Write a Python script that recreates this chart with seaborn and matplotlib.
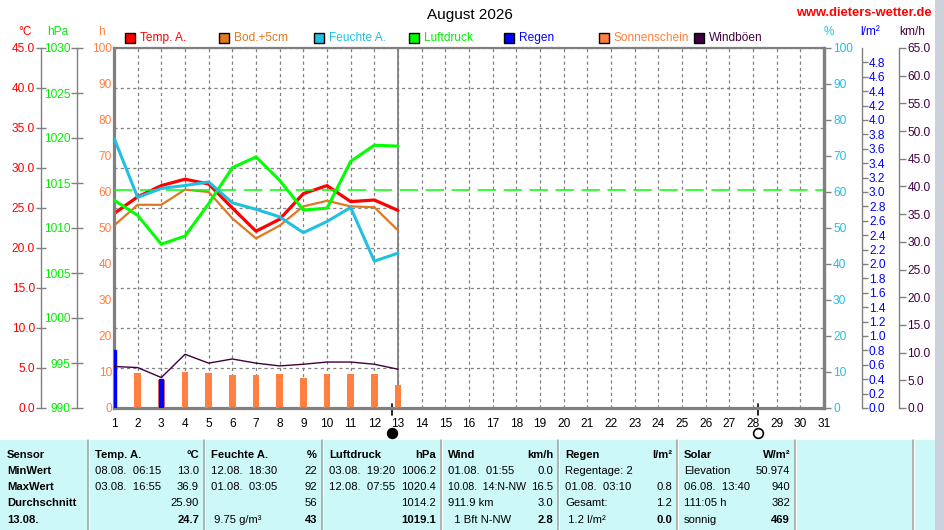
import matplotlib
matplotlib.use("Agg")
import matplotlib.pyplot as plt
import matplotlib.transforms as mtrans
from matplotlib.patches import Rectangle
from matplotlib.lines import Line2D
import seaborn as sns
import numpy as np
import pandas as pd

# ---------------- data ----------------
days = list(range(1, 14))
temp = [24.3, 26.4, 27.8, 28.6, 28.0, 25.0, 22.1, 23.6, 26.8, 27.8, 25.8, 26.0, 24.7]
soil = [22.8, 25.4, 25.4, 27.3, 27.0, 23.7, 21.2, 22.8, 25.2, 25.9, 25.2, 25.1, 22.2]
humidity = [75.0, 58.5, 61.0, 61.8, 62.8, 57.0, 55.2, 53.1, 48.7, 51.8, 55.7, 40.8, 43.0]
pressure = [1013.1, 1011.4, 1008.2, 1009.1, 1012.7, 1016.7, 1017.9, 1015.3, 1012.0,
            1012.2, 1017.4, 1019.2, 1019.1]
rain = [0.8, 0.0, 0.4, 0.0, 0.0, 0.0, 0.0, 0.0, 0.0, 0.0, 0.0, 0.0, 0.0]
sunshine = [9.4, 9.6, 7.8, 10.0, 9.6, 9.1, 9.2, 9.4, 8.3, 9.4, 9.4, 9.4, 6.4]
gusts = [7.5, 7.3, 5.5, 9.7, 8.1, 8.85, 8.1, 7.6, 7.9, 8.3, 8.3, 7.9, 7.0]
pressure_mean = 1014.2
today = 13
moon_new = 12.75
moon_full = 28.2

title = "August 2026"
site = "www.dieters-wetter.de"
legend_labels = ["Temp. A.", "Bod.+5cm", "Feuchte A.", "Luftdruck", "Regen", "Sonnenschein", "Windböen"]
legend_colors = ["#ff0000", "#e07820", "#20c0e0", "#00ff00", "#0000ff", "#ff8040", "#400040"]
legend_text_colors = ["#ff0000", "#e07820", "#20c0e0", "#00ee00", "#0000ff", "#ff8040", "#400040"]

table_headers = [("Sensor", ""), ("Temp. A.", "°C"), ("Feuchte A.", "%"), ("Luftdruck", "hPa"),
                 ("Wind", "km/h"), ("Regen", "l/m²"), ("Solar", "W/m²")]
table_left = [
    ["MinWert", "MaxWert", "Durchschnitt", "13.08."],
    ["08.08.  06:15", "03.08.  16:55", "", ""],
    ["12.08.  18:30", "01.08.  03:05", "", " 9.75 g/m³"],
    ["03.08.  19:20", "12.08.  07:55", "", ""],
    ["01.08.  01:55", "10.08.  14:N-NW", "911.9 km", "  1 Bft N-NW"],
    ["Regentage: 2", "01.08.  03:10", "Gesamt:", " 1.2 l/m²"],
    ["Elevation", "06.08.  13:40", "111:05 h", "sonnig"],
]
table_right = [
    ["", "", "", ""],
    ["13.0", "36.9", "25.90", "24.7"],
    ["22", "92", "56", "43"],
    ["1006.2", "1020.4", "1014.2", "1019.1"],
    ["0.0", "16.5", "3.0", "2.8"],
    ["", "0.8", "1.2", "0.0"],
    ["50.974", "940", "382", "469"],
]

# ---------------- style ----------------
sns.set_theme(style="white")
plt.rcParams['font.family'] = ['Liberation Sans', 'DejaVu Sans']
GRAY = "#808080"
FS = 8.6

df = pd.DataFrame({"day": days, "temp": temp, "soil": soil, "humidity": humidity,
                   "pressure": pressure, "rain": rain, "sunshine": sunshine, "gusts": gusts})

W, H = 944, 530
fig = plt.figure(figsize=(W / 100, H / 100), dpi=100)
fig.patch.set_facecolor("white")

L, R, T, B = 114, 824, 48, 408
pw = R - L
rect = [L / W, 1 - B / H, pw / W, (B - T) / H]

# base axis: temperature + grid + frame
ax_t = fig.add_axes(rect)
ax_t.set_facecolor("none")
ax_t.set_xlim(1, 31)
ax_t.set_ylim(0, 45)
ax_t.set_xticks(range(1, 32))
ax_t.set_xticklabels([str(d) for d in range(1, 32)])
ax_t.set_yticks(np.arange(0, 46, 5))
ax_t.set_yticklabels([f"{v:.1f}" for v in np.arange(0, 46, 5)])
ax_t.tick_params(axis="x", length=0, pad=7, labelsize=FS, labelcolor="black")
ax_t.tick_params(axis="y", direction="inout", length=7, width=1, color=GRAY, pad=1,
                 labelsize=FS, labelcolor="#ff0000", left=True)
ax_t.grid(True, color=GRAY, linestyle=(0, (2.5, 2.5)), linewidth=0.9)
ax_t.set_axisbelow(True)
ax_t.spines["left"].set_position(("axes", (41 - L) / pw))
ax_t.spines["left"].set_color(GRAY)
ax_t.spines["left"].set_linewidth(1)
for s, lw in [("bottom", 2.3), ("right", 2.3), ("top", 1.6)]:
    ax_t.spines[s].set_color(GRAY)
    ax_t.spines[s].set_linewidth(lw)
    ax_t.spines[s].set_visible(True)
ax_t.axvline(today, color=GRAY, linewidth=1.3, zorder=1.5)

# moon phase markers
trans = mtrans.blended_transform_factory(ax_t.transData, ax_t.transAxes)
for mx, filled in [(moon_new, True), (moon_full, False)]:
    ax_t.plot([mx, mx], [0.012, -0.02], transform=trans, color="black", lw=1.2, clip_on=False)
    ax_t.plot([mx], [-0.069], "o", transform=trans, ms=7, clip_on=False,
              markerfacecolor="black" if filled else "white", markeredgecolor="black", mew=1.2)


def twin(side, pos, color, lim, ticks, labels, direction, length, pad, spine_lw=1):
    a = ax_t.twinx()
    a.set_facecolor("none")
    for s in a.spines.values():
        s.set_visible(False)
    if side == "left":
        a.yaxis.tick_left()
    else:
        a.yaxis.tick_right()
    sp = a.spines[side]
    sp.set_visible(True)
    sp.set_color(GRAY)
    sp.set_linewidth(spine_lw)
    if pos is not None:
        sp.set_position(("axes", pos))
    a.set_ylim(*lim)
    a.set_yticks(ticks)
    a.set_yticklabels(labels)
    a.tick_params(axis="y", direction=direction, length=length, width=1, color=GRAY,
                  pad=pad, labelsize=FS, labelcolor=color)
    a.grid(False)
    return a


# sunshine hours (h) - frame left spine
ax_s = twin("left", None, "#ff8040", (0, 100), np.arange(0, 101, 10),
            [str(v) for v in range(0, 101, 10)], "out", 0, 1.5, spine_lw=2.3)
# pressure (hPa)
ax_p = twin("left", (77 - L) / pw, "#00ee00", (990, 1030), np.arange(990, 1031, 5),
            [str(v) for v in range(990, 1031, 5)], "inout", 8, 0.5)
# rain (l/m2)
rt = np.round(np.arange(0, 4.81, 0.2), 1)
ax_r = twin("right", (862 - L) / pw, "#0000ff", (0, 5), rt, [f"{v:.1f}" for v in rt], "out", 4, 1)
# wind gusts (km/h)
wt = np.arange(0, 66, 5)
ax_w = twin("right", (899 - L) / pw, "#400040", (0, 65), wt, [f"{v:.1f}" for v in wt], "out", 5, 1)
# humidity (%)
ax_h = twin("right", None, "#20c0e0", (0, 100), np.arange(0, 101, 10),
            [str(v) for v in range(0, 101, 10)], "out", 5, 1.5, spine_lw=2.3)

# ---- marks ----
ax_s.bar(df["day"], df["sunshine"], width=0.27, color="#ff8040", linewidth=0, zorder=2)
ax_r.bar(df["day"], df["rain"], width=0.18, color="#0000ff", edgecolor="#0000ff", linewidth=1, zorder=3)
sns.lineplot(data=df, x="day", y="gusts", ax=ax_w, color="#400040", linewidth=1.0)
sns.lineplot(data=df, x="day", y="soil", ax=ax_t, color="#e07820", linewidth=1.6)
sns.lineplot(data=df, x="day", y="temp", ax=ax_t, color="#ff0000", linewidth=2.3)
sns.lineplot(data=df, x="day", y="humidity", ax=ax_h, color="#20c0e0", linewidth=2.2)
sns.lineplot(data=df, x="day", y="pressure", ax=ax_p, color="#00ff00", linewidth=2.2)
ax_p.axhline(pressure_mean, color="#00ff00", linewidth=1.1, linestyle=(0, (12, 5)))

for a in [ax_t, ax_s, ax_p, ax_r, ax_w, ax_h]:
    a.set_xlabel("")
    a.set_ylabel("")
ax_t.set_xlim(1, 31)

# ---- unit labels ----
def ftxt(x, y, s, **kw):
    fig.text(x / W, 1 - y / H, s, **kw)

for x, s, c in [(25, "°C", "#ff0000"), (58, "hPa", "#00ee00"), (101, "h", "#ff8040"),
                (829, "%", "#20c0e0"), (870, "l/m²", "#0000ff"), (912, "km/h", "#400040")]:
    ftxt(x, 32, s, color=c, fontsize=FS, ha="center", va="center")

ftxt(470, 15, title, fontsize=11, ha="center", va="center", color="black")
ftxt(932, 13, site, fontsize=9.3, ha="right", va="center", color="#ff0000", fontweight="bold")

# ---- legend ----
for i, (lab, col, tcol) in enumerate(zip(legend_labels, legend_colors, legend_text_colors)):
    x0 = 124.5 + i * 94.9
    fig.add_artist(Rectangle((x0 / W, 1 - 43 / H), 10 / W, 10 / H, transform=fig.transFigure,
                             facecolor=col, edgecolor="black", linewidth=1))
    ftxt(x0 + 15, 38, lab, color=tcol, fontsize=FS, ha="left", va="center")

# ---- table ----
fig.add_artist(Rectangle((0, 0), 935 / W, 90 / H, transform=fig.transFigure,
                         facecolor="#ccf8f8", edgecolor="none", zorder=0))
fig.add_artist(Rectangle((935 / W, 0), 9 / W, 1, transform=fig.transFigure,
                         facecolor="#cdd1dc", edgecolor="none", zorder=0))
for sx in [88, 204, 322, 441, 558, 677, 795, 913]:
    fig.add_artist(Line2D([sx / W, sx / W], [0, 90 / H], transform=fig.transFigure,
                          color="#a0a0a0", linewidth=1.1))
    fig.add_artist(Line2D([(sx + 1.3) / W, (sx + 1.3) / W], [0, 90 / H], transform=fig.transFigure,
                          color="white", linewidth=0.8))

col_start = [0, 88, 204, 322, 441, 558, 677]
col_end = [88, 204, 322, 441, 558, 677, 795]
rows_y = [455.5, 470.5, 487, 503.5, 520]
TFS = 8.1
for c in range(7):
    hl, hr = table_headers[c]
    ftxt(col_start[c] + 7, rows_y[0], hl, fontsize=TFS, fontweight="bold", ha="left", va="center", color="black")
    if hr:
        ftxt(col_end[c] - 5, rows_y[0], hr, fontsize=TFS, fontweight="bold", ha="right", va="center", color="black")
    for r in range(4):
        lt = table_left[c][r]
        rt_ = table_right[c][r]
        if lt:
            fs = TFS - 0.5 if len(lt) > 14 else TFS
            ftxt(col_start[c] + 7, rows_y[r + 1], lt, fontsize=fs, ha="left", va="center", color="black",
                 fontweight="bold" if c == 0 else "normal")
        if rt_:
            ftxt(col_end[c] - 5, rows_y[r + 1], rt_, fontsize=TFS, ha="right", va="center", color="black",
                 fontweight="bold" if r == 3 else "normal")

fig.savefig("out.png", dpi=100)
